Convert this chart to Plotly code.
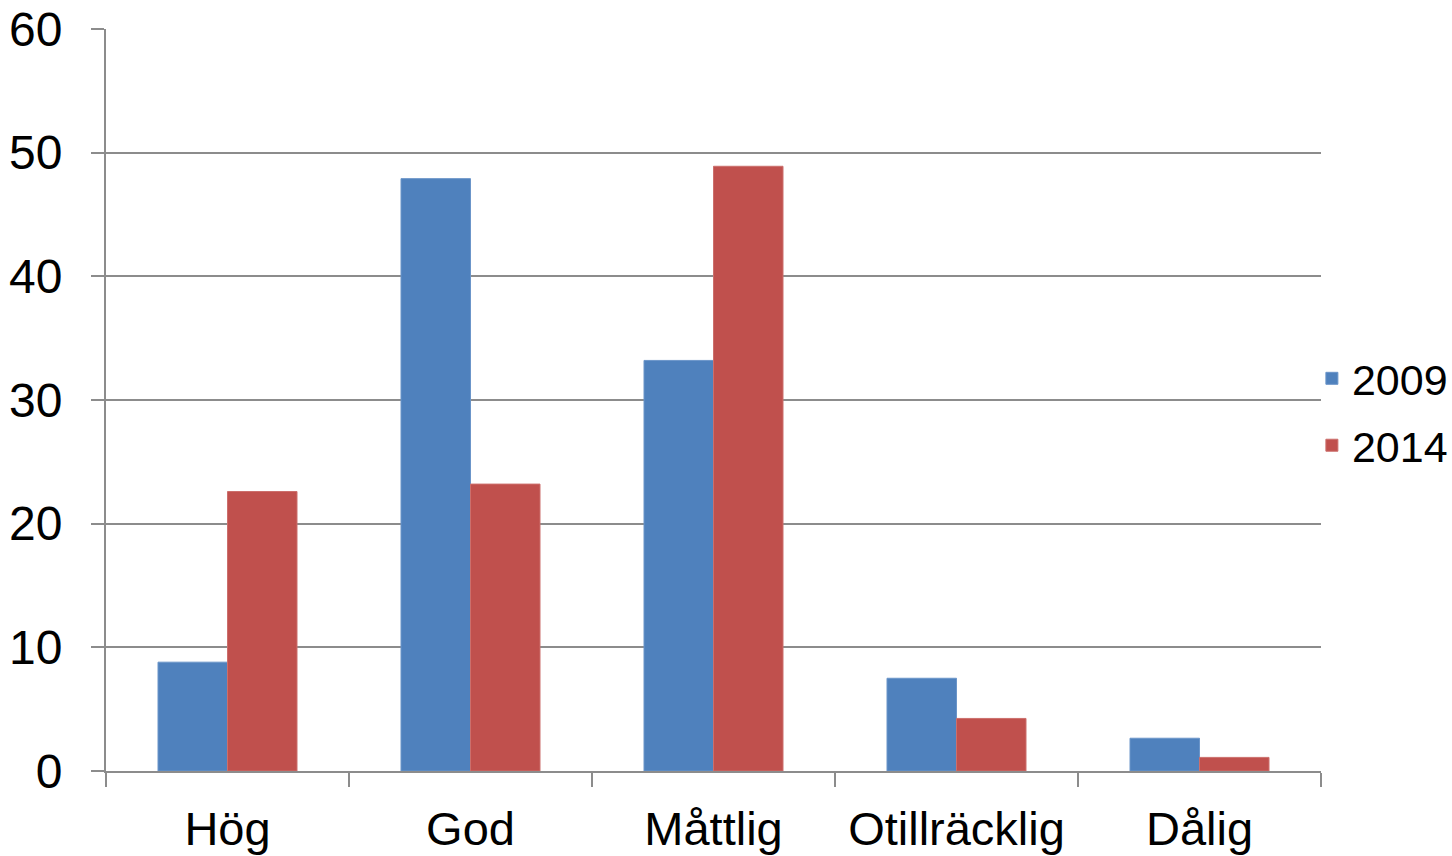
import plotly.graph_objects as go

categories = ["Hög", "God", "Måttlig", "Otillräcklig", "Dålig"]
series_names = ["2009", "2014"]
values_2009 = [8.8, 47.9, 33.2, 7.5, 2.65]
values_2014 = [22.6, 23.2, 48.9, 4.25, 1.1]
y_tick_values = [0, 10, 20, 30, 40, 50, 60]

colors = ["#4F81BD", "#C0504D"]
outlines = ["#6B95C9", "#CC6F6C"]
grid = "#8C8C8C"
font_family = "Liberation Sans, Arial, sans-serif"

fig = go.Figure()
for name, vals, c, oc in zip(series_names, [values_2009, values_2014], colors, outlines):
    fig.add_trace(go.Bar(
        x=categories, y=vals, name=name, legendgroup=name,
        marker=dict(color=c, line=dict(color=oc, width=1)),
    ))

fig.update_layout(
    width=1452, height=856,
    margin=dict(l=106, r=131, t=29, b=85, autoexpand=False),
    paper_bgcolor="white", plot_bgcolor="white",
    barmode="group", bargap=0.428, bargroupgap=0,
    font=dict(family=font_family, size=47, color="black"),
    showlegend=True,
    legend=dict(x=0.9925, xanchor="left", y=0.484, yanchor="middle",
                font=dict(size=43), bgcolor="rgba(0,0,0,0)",
                tracegroupgap=8),
)
fig.update_xaxes(
    automargin=False,
    showline=True, linecolor=grid, linewidth=2,
    ticks="outside", tickson="boundaries", ticklen=14, tickcolor=grid, tickwidth=2,
    showgrid=False, tickfont=dict(size=47),
    ticklabelstandoff=16,
)
fig.update_yaxes(
    automargin=False,
    range=[0, 60], tickvals=y_tick_values,
    showline=True, linecolor=grid, linewidth=2,
    ticks="outside", ticklen=13, tickcolor=grid, tickwidth=2,
    showgrid=True, gridcolor=grid, gridwidth=2,
    zeroline=False, tickfont=dict(size=48),
    ticklabelstandoff=19,
)

fig.write_html(
    "out.html",
    config={"displayModeBar": False},
    post_script="document.body.style.margin='0';document.body.style.overflow='hidden';",
)
